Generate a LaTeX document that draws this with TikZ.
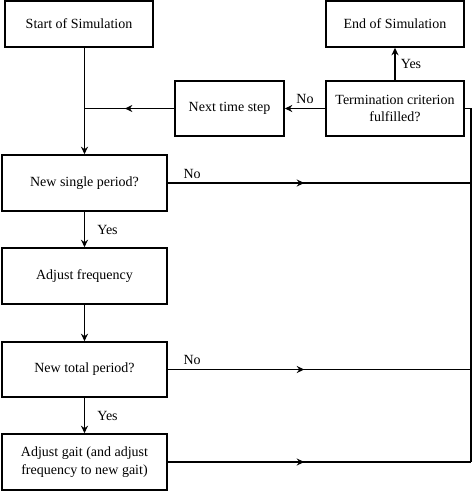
\documentclass[tikz,border=0pt]{standalone}
\usepackage{fontspec}
\setmainfont{Liberation Serif}
\usetikzlibrary{arrows.meta,decorations.markings}

\begin{document}
\begin{tikzpicture}[x=1pt,y=-1pt,line width=1.6pt,>={Stealth[length=7.5pt,width=7pt,inset=2.5pt]},
    box/.style={draw,align=center,inner sep=0pt,font=\fontsize{14}{17.5}\selectfont},
    lbl/.style={font=\fontsize{14}{16}\selectfont,inner sep=0pt},
    midarrow/.style={postaction={decorate,
        decoration={markings,mark=at position #1 with {\arrow{>}}}}}]
  \useasboundingbox (0,0) rectangle (473,491);
  % boxes
  \node[box,minimum width=148,minimum height=46] (start) at (79,24) {Start of Simulation};
  \node[box,minimum width=138,minimum height=46] (end) at (395,24) {End of Simulation};
  \node[box,minimum width=109,minimum height=55] (next) at (229.5,108.5) {Next time step};
  \node[box,minimum width=138,minimum height=55] (term) at (395,108.5) {Termination criterion\\fulfilled?};
  \node[box,minimum width=165,minimum height=56] (single) at (84.5,183) {New single period?};
  \node[box,minimum width=165,minimum height=56] (freq) at (84.5,276) {Adjust frequency};
  \node[box,minimum width=165,minimum height=55] (total) at (84.5,369.5) {New total period?};
  \node[box,minimum width=165,minimum height=56] (gait) at (84.5,462) {Adjust gait (and adjust\\frequency to new gait)};
  \coordinate (join) at (single.north |- next.west);
  \coordinate (rail) at (471,108.5);

  % main line
  \draw[->] (single.north |- start.south) -- (single.north);
  \draw[midarrow=0.55] (next.west) -- (join);
  \draw[->] (term.west) -- (next.east) node[lbl,pos=0.5,above=4pt] {No};
  \draw[->] (term.north) -- (end.south) node[lbl,pos=0.5,right=5pt] {Yes};
  \draw[->] (single.south) -- (freq.north) node[lbl,pos=0.5,right=12pt] {Yes};
  \draw[->] (freq.south) -- (total.north);
  \draw[->] (total.south) -- (gait.north) node[lbl,pos=0.5,right=12pt] {Yes};

  % return path
  \draw[midarrow=0.45] (single.east) -- (single.east -| rail) node[lbl,pos=0.08,above=4pt] {No};
  \draw[midarrow=0.45] (total.east) -- (total.east -| rail) node[lbl,pos=0.08,above=4pt] {No};
  \draw[midarrow=0.45] (gait.east) -- (gait.east -| rail);
  \draw (gait.east -| rail) -- (rail) -- (term.east);
\end{tikzpicture}
\end{document}
